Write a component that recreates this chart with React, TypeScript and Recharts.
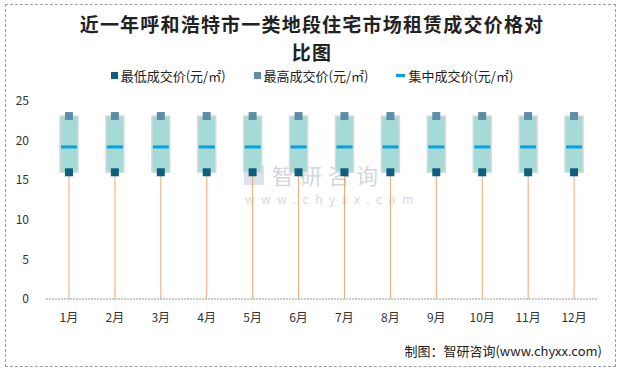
import React from 'react'
import { ComposedChart, Bar, Scatter, XAxis, YAxis } from 'recharts'

const months = ['1月','2月','3月','4月','5月','6月','7月','8月','9月','10月','11月','12月']
const lowPrice = [16.0,16.0,16.0,16.0,16.0,16.0,16.0,16.0,16.0,16.0,16.0,16.0]
const highPrice = [23.1,23.1,23.1,23.1,23.1,23.1,23.1,23.1,23.1,23.1,23.1,23.1]
const midPrice = [19.2,19.2,19.2,19.2,19.2,19.2,19.2,19.2,19.2,19.2,19.2,19.2]
const yTicks = [0,5,10,15,20,25]

const data = months.map((m, i) => ({
  month: m,
  low: lowPrice[i],
  high: highPrice[i],
  mid: midPrice[i],
  span: highPrice[i] - lowPrice[i],
}))

const Whisker = (props: any) => {
  const { x, y, width, height } = props
  const cx = x + width / 2
  return <line x1={cx} x2={cx} y1={y} y2={y + height} stroke='#eea774' strokeWidth={1} />
}

const Box = (props: any) => {
  const { x, y, width, height, payload } = props
  const ppu = height / (payload.high - payload.low)
  const my = y + (payload.high - payload.mid) * ppu
  return (
    <g>
      <rect x={x} y={y} width={width} height={height} fill='#a5dad7' stroke='#d9d9d9' strokeWidth={1.5} />
      <line x1={x + 1} x2={x + width - 1} y1={my} y2={my} stroke='#00a3e0' strokeWidth={3} />
    </g>
  )
}

const square = (color: string) => (props: any) => {
  const { cx, cy } = props
  return <rect x={cx - 4} y={cy - 4} width={8} height={8} fill={color} />
}

const font = '"Noto Sans CJK SC", "Noto Sans", sans-serif'

function App() {
  return (
    <div style={{ position: 'fixed', left: 0, top: 0, width: 624, height: 368, background: '#fff', fontFamily: font }}>
      <div style={{ position: 'absolute', left: 5, top: 4, width: 609, height: 361, border: '1px dashed #a0a0a0' }} />
      <div style={{ position: 'absolute', left: 0, top: 10, width: 624, textAlign: 'center', fontSize: 19, fontWeight: 'bold', lineHeight: '28px', letterSpacing: 1.2, color: '#222' }}>
        近一年呼和浩特市一类地段住宅市场租赁成交价格对<br />比图
      </div>
      <div style={{ position: 'absolute', left: 0, top: 66, width: 624, display: 'flex', justifyContent: 'center', fontSize: 13, color: '#222', gap: 28 }}>
        <span style={{ display: 'flex', alignItems: 'center' }}>
          <span style={{ width: 7, height: 7, background: '#0d5f80', marginRight: 3 }} />最低成交价(元/㎡)
        </span>
        <span style={{ display: 'flex', alignItems: 'center' }}>
          <span style={{ width: 7, height: 7, background: '#5d8ea9', marginRight: 3 }} />最高成交价(元/㎡)
        </span>
        <span style={{ display: 'flex', alignItems: 'center' }}>
          <span style={{ width: 9, height: 3, background: '#00a3e0', marginRight: 3 }} />集中成交价(元/㎡)
        </span>
      </div>
      <div style={{ position: 'absolute', left: 244, top: 165, width: 20, height: 20, background: '#dde3ea' }} />
      <div style={{ position: 'absolute', left: 272, top: 158, fontSize: 22, letterSpacing: 6, lineHeight: '32px', color: '#d3d7dc' }}>智研咨询</div>
      <div style={{ position: 'absolute', left: 245, top: 190, fontSize: 12, letterSpacing: 6.5, lineHeight: '18px', color: '#d5d9de' }}>www.chyxx.com</div>
      <ComposedChart width={624} height={368} data={data} margin={{ top: 101, right: 27, bottom: 39, left: 6 }} style={{ position: 'absolute', left: 0, top: 0 }}>
        <XAxis dataKey='month' tickLine={false} axisLine={{ stroke: '#999', strokeDasharray: '2 1' }} tick={{ fontSize: 12, fill: '#333' }} tickMargin={8} />
        <YAxis domain={[0, 25]} ticks={yTicks} width={40} axisLine={false} tickLine={false} tickSize={0} tickMargin={17} tick={{ fontSize: 12, fill: '#333' }} />
        <Bar dataKey='low' stackId='a' barSize={18} shape={Whisker} isAnimationActive={false} />
        <Bar dataKey='span' stackId='a' barSize={18} shape={Box} isAnimationActive={false} />
        <Scatter dataKey='low' shape={square('#0d5f80')} isAnimationActive={false} />
        <Scatter dataKey='high' shape={square('#5d8ea9')} isAnimationActive={false} />
      </ComposedChart>
      <div style={{ position: 'absolute', right: 22, top: 341, fontSize: 13, color: '#222' }}>
        制图：智研咨询(www.chyxx.com)
      </div>
    </div>
  )
}

export default App
